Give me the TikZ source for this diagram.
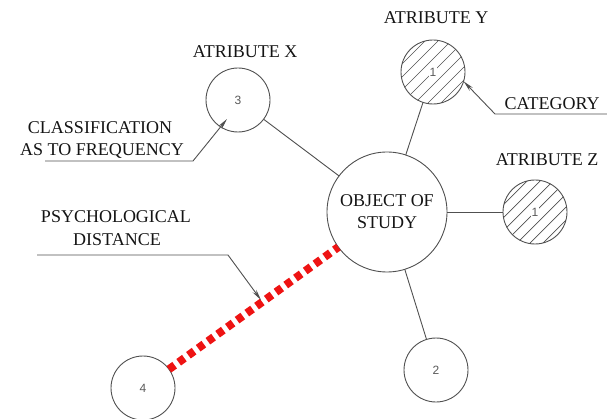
\documentclass[tikz,border=0pt]{standalone}
\usepackage{fontspec}
\setmainfont{Liberation Serif}
\newfontfamily\numfont{Liberation Sans}
\usetikzlibrary{arrows.meta}
\definecolor{ink}{HTML}{141414}
\definecolor{stroke}{HTML}{505050}
\definecolor{redline}{HTML}{EE1313}
\begin{document}
\begin{tikzpicture}[x=1pt,y=-1pt,
  bubble/.style={circle, draw=stroke, line width=0.9pt, inner sep=0pt, outer sep=0pt,
    font=\numfont\fontsize{12}{12}\selectfont, text=black!65},
  hatched/.style={path picture={
    \foreach \s in {-78,-65,...,78}{
      \draw[stroke, line width=0.7pt]
        ([xshift={(\s-40)*1pt},yshift=-40pt]path picture bounding box.center) --
        ([xshift={(\s+40)*1pt},yshift=40pt]path picture bounding box.center);}}},
  lbl/.style={font=\fontsize{18}{20}\selectfont, text=ink, inner sep=0pt, anchor=base},
  spoke/.style={draw=stroke, line width=0.9pt},
  leader/.style={draw=stroke, line width=0.9pt},
  tip/.style={-{Stealth[length=11pt,width=4.5pt]}},
  redbar/.style={draw=redline, line width=8pt, dash pattern=on 7pt off 5pt}
]
\useasboundingbox (0,0) rectangle (607,419);

% circles
\node[bubble, minimum size=120pt, font=\fontsize{18}{22}\selectfont, text=ink, align=center] (obj) at (387,212) {OBJECT OF\\STUDY};
\node[bubble, minimum size=64pt] (c3) at (238,100) {3};
\node[bubble, minimum size=64pt, hatched] (cy) at (433,72) {\setlength\fboxsep{0.8pt}\colorbox{white}{1}};
\node[bubble, minimum size=64pt, hatched] (cz) at (535,212) {\setlength\fboxsep{0.8pt}\colorbox{white}{1}};
\node[bubble, minimum size=64pt] (c2) at (436,370) {2};
\node[bubble, minimum size=64pt] (c4) at (143,388) {4};

% spokes
\draw[spoke] (obj) -- (c3);
\draw[spoke] (obj) -- (cy);
\draw[spoke] (obj) -- (cz);
\draw[spoke] (obj) -- (c2);
\draw[redbar] (c4) -- (obj);

% labels
\node[lbl] (lx) at (245,58) {ATRIBUTE X};
\node[lbl] (ly) at (436,24) {ATRIBUTE Y};
\node[lbl] (lz) at (547,166) {ATRIBUTE Z};
\node[lbl] (lcat) at (552,110) {CATEGORY};
\node[lbl] (lcl1) at (100,134) {CLASSIFICATION};
\node[lbl] (lcl2) at (102,156) {AS TO FREQUENCY};
\node[lbl] (lps1) at (116,223) {PSYCHOLOGICAL};
\node[lbl] (lps2) at (117,246) {DISTANCE};

% leaders
\coordinate (catR) at (607,114);
\coordinate (catK) at (495,114);
\draw[leader, tip] (catR) -- (catK) -- (cy.-17);

\coordinate (clsL) at (45,161);
\coordinate (clsK) at (193,161);
\coordinate (clsT) at (227,119);
\draw[leader, tip] (clsL) -- (clsK) -- (clsT);

\coordinate (psyL) at (37,255);
\coordinate (psyK) at (228,255);
\coordinate (psyT) at (261,300);
\draw[leader, tip] (psyL) -- (psyK) -- (psyT);
\end{tikzpicture}
\end{document}
